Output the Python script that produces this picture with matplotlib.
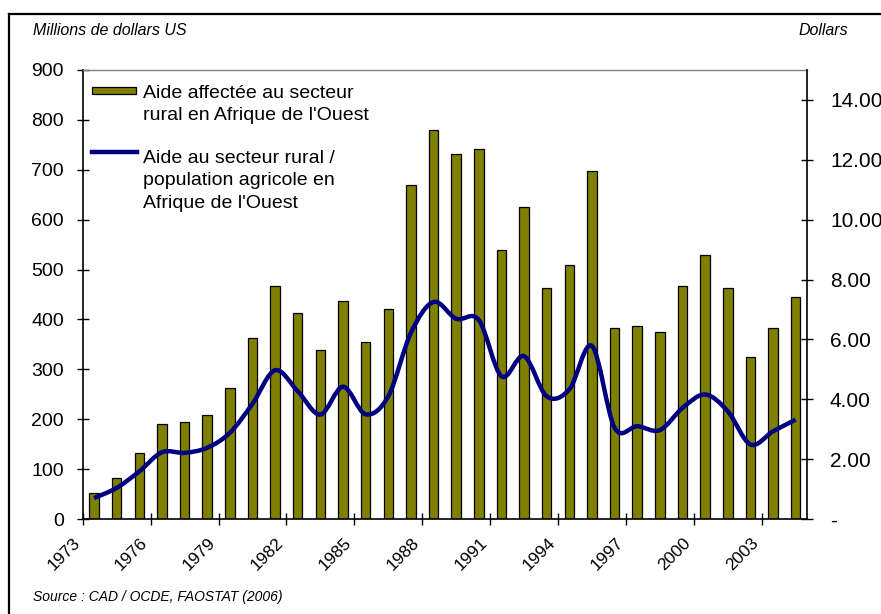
import numpy as np
import matplotlib
matplotlib.use("Agg")
from matplotlib import pyplot as plt
from matplotlib.path import Path
from matplotlib.patches import PathPatch, Rectangle
from matplotlib.lines import Line2D
from matplotlib.ticker import FuncFormatter

plt.rcParams['font.family'] = ['Liberation Sans', 'DejaVu Sans']

# data
years = list(range(1973, 2005))
aid_rural = [52, 82, 133, 191, 195, 208, 263, 362, 468, 413, 338, 437, 355, 420, 669, 779,
             731, 741, 540, 625, 464, 509, 697, 382, 386, 375, 468, 530, 464, 325, 383, 444]
aid_per_farmer = [0.70, 1.04, 1.59, 2.23, 2.21, 2.38, 2.88, 3.85, 4.97, 4.27, 3.49, 4.42,
                  3.50, 4.10, 6.22, 7.25, 6.69, 6.65, 4.77, 5.44, 4.10, 4.33, 5.78, 3.05,
                  3.10, 2.97, 3.71, 4.16, 3.60, 2.49, 2.93, 3.32]
tick_years = years[::3]

label_bars = "Aide affectée au secteur\nrural en Afrique de l'Ouest"
label_line = "Aide au secteur rural /\npopulation agricole en\nAfrique de l'Ouest"

olive = '#808000'
navy = '#000080'

fig = plt.figure(figsize=(8.81, 6.14), dpi=100)
ax = fig.add_axes([0.0939, 0.1547, 0.8221, 0.7313])

x = np.arange(len(years))
ax.bar(x, aid_rural, width=0.42, color=olive, edgecolor='black', linewidth=0.9, zorder=2)
ax.set_xlim(-0.5, len(years) - 0.5)
ax.set_ylim(0, 900)
ax.set_yticks(range(0, 901, 100))
ax.set_xticks(np.arange(0, len(years), 3) - 0.5)
ax.set_xticklabels([str(y) for y in tick_years], rotation=45, ha='right', va='top')
ax.tick_params(axis='both', direction='inout', length=9, width=1)
ax.tick_params(axis='y', pad=9, labelsize=14)
ax.tick_params(axis='x', pad=7, labelsize=12.5)
for s in ['left', 'bottom']:
    ax.spines[s].set_linewidth(1.2)
ax.spines['top'].set_color('#808080')
ax.spines['top'].set_linewidth(1)
ax.spines['right'].set_visible(False)

ax2 = ax.twinx()
ax2.set_ylim(0, 15)
ax2.set_yticks(range(0, 15, 2))
ax2.yaxis.set_major_formatter(FuncFormatter(lambda v, p: '-' if v == 0 else '%.2f' % v))
ax2.tick_params(axis='y', direction='inout', length=9, width=1, labelsize=15, pad=12)
ax2.spines['right'].set_linewidth(1.2)
for s in ['top', 'left', 'bottom']:
    ax2.spines[s].set_visible(False)

# smoothed line (bezier through the points, like the spreadsheet "smoothed line")
pts = np.column_stack([x, aid_per_farmer]).astype(float)
ext = np.vstack([pts[0], pts, pts[-1]])
verts = [pts[0]]
codes = [Path.MOVETO]
for i in range(len(pts) - 1):
    p0, p1, p2, p3 = ext[i], ext[i + 1], ext[i + 2], ext[i + 3]
    verts += [p1 + (p2 - p0) / 6, p2 - (p3 - p1) / 6, p2]
    codes += [Path.CURVE4] * 3
ax2.add_patch(PathPatch(Path(verts, codes), facecolor='none', edgecolor=navy,
                        linewidth=3.2, capstyle='butt', zorder=3))

# legend, handles aligned with the first line of each label
# (va='baseline' on multi-line text anchors the last line)
tr = ax2.transAxes
ax2.add_patch(Rectangle((0.0128, 0.9459), 0.0607, 0.0169, transform=tr, facecolor=olive,
                        edgecolor='black', linewidth=0.9, clip_on=False, zorder=4))
ax2.add_line(Line2D([0.0128, 0.0745], [0.8174, 0.8174], transform=tr, color=navy,
                    linewidth=3.2, zorder=4))
ax2.text(0.0833, 0.8886, label_bars, transform=tr, fontsize=14, va='baseline',
         linespacing=1.42)
ax2.text(0.0833, 0.6933, label_line, transform=tr, fontsize=14, va='baseline',
         linespacing=1.42)

# outer frame (cut by the picture edge)
fig.add_artist(Line2D([0.0097, 1.0], [0.978, 0.978], color='black', linewidth=1.6))
fig.add_artist(Line2D([0.0097, 0.0097], [0.0, 0.978], color='black', linewidth=1.6))

fig.text(0.0375, 0.951, 'Millions de dollars US', fontsize=11.5, style='italic', va='center')
fig.text(0.9625, 0.951, 'Dollars', fontsize=11.5, style='italic', va='center', ha='right')
fig.text(0.0375, 0.0277, 'Source : CAD / OCDE, FAOSTAT (2006)', fontsize=10,
         style='italic', va='center')

fig.savefig('out.png', dpi=100)
